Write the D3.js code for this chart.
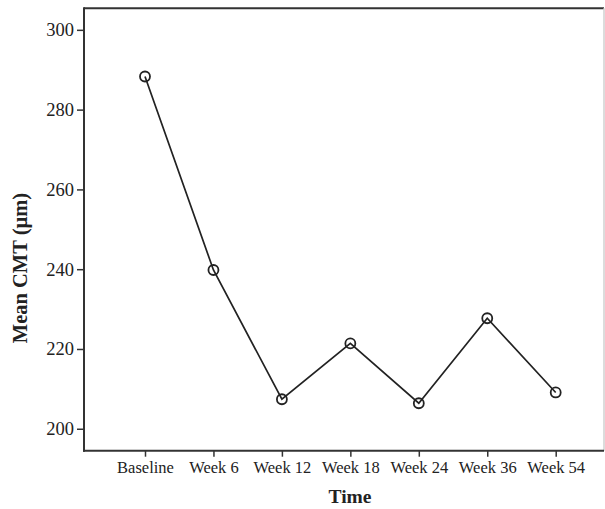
<!DOCTYPE html>
<html><head><meta charset="utf-8">
<script src="https://cdn.jsdelivr.net/npm/d3@7"></script>
<style>body{margin:0;background:#fff}svg{display:block}</style>
</head><body>
<svg id="c" width="605" height="509"></svg>
<script>
const categories = ["Baseline","Week 6","Week 12","Week 18","Week 24","Week 36","Week 54"];
const values = [288.3, 239.8, 207.4, 221.4, 206.4, 227.7, 209.1];
const yTicks = [200, 220, 240, 260, 280, 300];

const svg = d3.select("#c");
const L = 84, R = 604, T = 8.3, B = 450.7;
const font = "'Liberation Serif', 'DejaVu Serif', serif";

const x = d3.scalePoint().domain(categories).range([145, 555.7]);
const y = d3.scaleLinear().domain([194.5, 305.4]).range([B, T]);

// frame
svg.append("line").attr("x1",L).attr("x2",R).attr("y1",T).attr("y2",T).attr("stroke","#333").attr("stroke-width",2);
svg.append("line").attr("x1",R).attr("x2",R).attr("y1",T).attr("y2",B).attr("stroke","#d0d0d0").attr("stroke-width",1.5);

const yAxis = svg.append("g").attr("transform",`translate(${L},0)`)
  .call(d3.axisLeft(y).tickValues(yTicks).tickSize(7).tickPadding(3).tickSizeOuter(0));
const xAxis = svg.append("g").attr("transform",`translate(0,${B})`)
  .call(d3.axisBottom(x).tickSize(6).tickPadding(5).tickSizeOuter(0));
[yAxis, xAxis].forEach(a=>{
  a.select(".domain").attr("stroke","#333").attr("stroke-width",2);
  a.selectAll(".tick line").attr("stroke","#333").attr("stroke-width",1.5);
  a.selectAll("text").attr("fill","#222").style("font-family",font);
});
yAxis.select(".domain").attr("d",`M0,${T-1}V${B+1}`);
xAxis.select(".domain").attr("d",`M${L-1},0H${R}`);
yAxis.selectAll("text").style("font-size","18.5px");
xAxis.selectAll("text").style("font-size","16.5px");

const line = d3.line().x((d,i)=>x(categories[i])).y(d=>y(d));
svg.append("path").datum(values).attr("d",line).attr("fill","none").attr("stroke","#222").attr("stroke-width",1.7);
svg.selectAll("circle.pt").data(values).join("circle").attr("class","pt")
  .attr("cx",(d,i)=>x(categories[i])).attr("cy",d=>y(d)).attr("r",5)
  .attr("fill","none").attr("stroke","#222").attr("stroke-width",1.8);

svg.append("text").attr("x",350).attr("y",503).attr("text-anchor","middle")
  .style("font-family",font).style("font-size","19.5px").style("font-weight","bold").attr("fill","#222").text("Time");
svg.append("text").attr("transform","translate(27,268) rotate(-90)").attr("text-anchor","middle")
  .style("font-family",font).style("font-size","20.5px").style("font-weight","bold").attr("fill","#222").text("Mean CMT (µm)");
</script>
</body></html>
